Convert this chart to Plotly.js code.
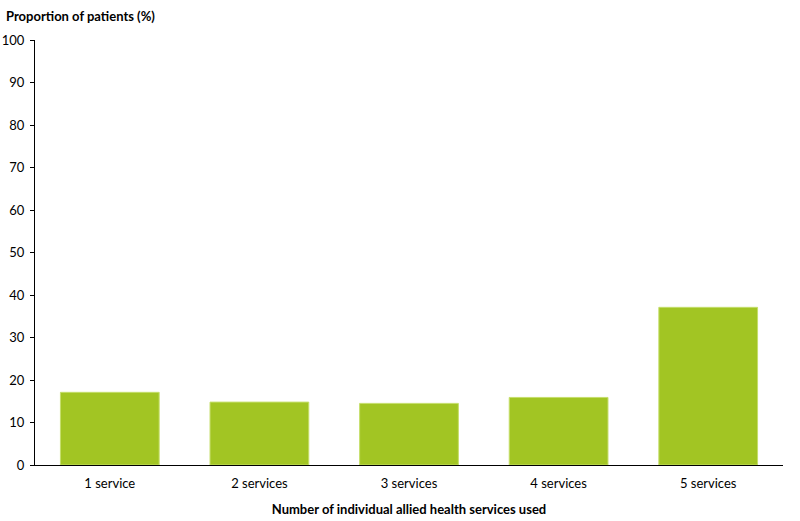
<!DOCTYPE html>
<html>
<head>
<meta charset="utf-8">
<script src="https://cdn.plot.ly/plotly-3.0.1.min.js"></script>
<style>html,body{margin:0;padding:0;background:#fff;}#chart{width:800px;height:521px;}</style>
</head>
<body>
<div id="chart"></div>
<script>
const categories = ["1 service", "2 services", "3 services", "4 services", "5 services"];
const values = [17.1, 14.8, 14.5, 15.9, 37.1];
const yTicks = [0, 10, 20, 30, 40, 50, 60, 70, 80, 90, 100];

const fontFam = "Lato, 'Open Sans', sans-serif";

Plotly.newPlot("chart", [{
  type: "bar",
  x: categories,
  y: values,
  marker: {color: "#A2C523", line: {color: "#C5DE6A", width: 1}},
  hoverinfo: "x+y"
}], {
  width: 800, height: 521,
  margin: {l: 35, r: 17, t: 40, b: 56},
  bargap: 0.34,
  paper_bgcolor: "#fff", plot_bgcolor: "#fff",
  font: {family: fontFam, size: 13, color: "#000"},
  xaxis: {
    showline: true, linecolor: "#000", linewidth: 1,
    ticks: "", showgrid: false, zeroline: false,
    tickfont: {size: 13}, ticklabelstandoff: 6,
    title: {text: "<b>Number of individual allied health services used</b>", font: {size: 13}, standoff: 15}
  },
  yaxis: {
    range: [0, 100], tickvals: yTicks, showline: true, linecolor: "#000", linewidth: 1,
    ticks: "outside", ticklen: 4, tickcolor: "#000", ticklabelstandoff: 3,
    showgrid: false, zeroline: false, tickfont: {size: 13}, fixedrange: true
  },
  annotations: [{
    text: "<b>Proportion of patients (%)</b>", xref: "paper", yref: "paper",
    x: -0.042, y: 1, xanchor: "left", yanchor: "bottom", yshift: 14,
    showarrow: false, font: {size: 13}
  }],
  showlegend: false
}, {displayModeBar: false});
</script>
</body>
</html>
